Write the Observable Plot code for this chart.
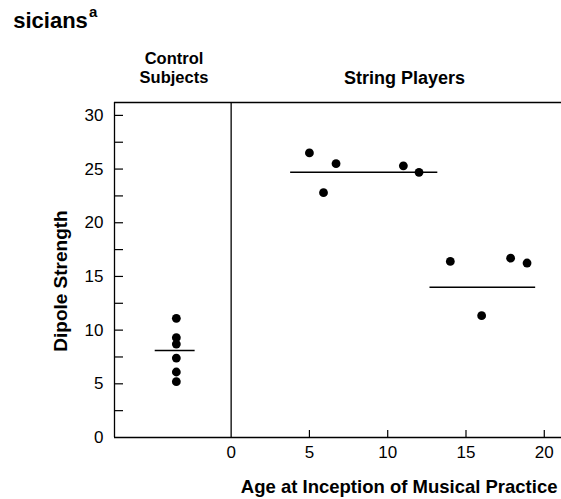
<!DOCTYPE html>
<html>
<head>
<meta charset="utf-8">
<script src="https://cdn.jsdelivr.net/npm/d3@7"></script>
<script src="https://cdn.jsdelivr.net/npm/@observablehq/plot@0.6"></script>
<style>
  html, body { margin: 0; padding: 0; background: #fff; }
  #chart svg { display: block; }
</style>
</head>
<body>
<div id="chart"></div>
<script>
// ---- data ----
const controlPosition = -3.5;
const controlValues = [11.1, 9.3, 8.7, 7.4, 6.1, 5.2];
const stringAges = [5.0, 5.9, 6.7, 11.0, 12.0, 14.0, 16.0, 17.85, 18.9];
const stringValues = [26.5, 22.8, 25.5, 25.3, 24.7, 16.4, 11.35, 16.7, 16.25];
const meanStart = [-4.85, 3.8, 12.7];
const meanEnd = [-2.3, 13.2, 19.45];
const meanValue = [8.1, 24.7, 14.0];
const xTickLabels = [0, 5, 10, 15, 20];
const yTickLabels = [0, 5, 10, 15, 20, 25, 30];
const yMinorTicks = [2.5, 5, 7.5, 10, 12.5, 15, 17.5, 20, 22.5, 25, 27.5, 30];
const xInnerTicks = [5, 10, 15, 20];
const xDomain = [-7.45, 21.1];
const yDomain = [0, 31.2];

const points = [
  ...controlValues.map(v => ({x: controlPosition, y: v})),
  ...stringAges.map((a, i) => ({x: a, y: stringValues[i]}))
];
const means = meanValue.map((v, i) => ({x1: meanStart[i], x2: meanEnd[i], y: v}));

const font = "'Liberation Sans', Arial, Helvetica, sans-serif";
const txt = {fill: "#000", lineAnchor: "middle", fontWeight: "bold"};

const chart = Plot.plot({
  width: 561,
  height: 499,
  marginTop: 102,
  marginBottom: 62,
  marginLeft: 114,
  marginRight: 0,
  style: {fontFamily: font, color: "#000", background: "#fff", overflow: "visible"},
  x: {domain: xDomain},
  y: {domain: yDomain},
  marks: [
    // frame lines
    Plot.ruleY([yDomain[0]], {stroke: "#000", strokeWidth: 1.3}),
    Plot.ruleY([yDomain[1]], {stroke: "#000", strokeWidth: 1.3}),
    Plot.ruleX([xDomain[0]], {stroke: "#000", strokeWidth: 1.3}),
    Plot.ruleX([0], {stroke: "#000", strokeWidth: 1.3}),
    // inward ticks
    Plot.tickY(yMinorTicks, {y: d => d, stroke: "#000", strokeWidth: 1.2, insetRight: 438}),
    Plot.tickX(xInnerTicks, {x: d => d, stroke: "#000", strokeWidth: 1.2, insetTop: 328}),
    // axes labels
    Plot.axisY({ticks: yTickLabels, tickSize: 0, tickPadding: 11, fontSize: 17, label: null, tickFormat: d => String(d)}),
    Plot.axisX({ticks: xTickLabels, tickSize: 0, tickPadding: 8, fontSize: 17, label: null, tickFormat: d => String(d)}),
    // mean lines
    Plot.ruleY(means, {x1: "x1", x2: "x2", y: "y", stroke: "#000", strokeWidth: 1.6}),
    // dots
    Plot.dot(points, {x: "x", y: "y", r: 4.4, fill: "#000", stroke: "none"}),
    // axis titles
    Plot.text(["Dipole Strength"], {...txt, frameAnchor: "left", textAnchor: "middle", dx: -54, dy: 11, rotate: -90, fontSize: 19}),
    Plot.text(["Age at Inception of Musical Practice"], {...txt, frameAnchor: "bottom-right", textAnchor: "end", dx: -4, dy: 50, fontSize: 18.5}),
    // group headers
    Plot.text(["Control"], {...txt, frameAnchor: "top", textAnchor: "middle", dx: -164, dy: -44, fontSize: 16.5}),
    Plot.text(["Subjects"], {...txt, frameAnchor: "top", textAnchor: "middle", dx: -164, dy: -25, fontSize: 16.5}),
    Plot.text(["String Players"], {...txt, frameAnchor: "top", textAnchor: "middle", dx: 66.5, dy: -24.5, fontSize: 18}),
    // title fragment
    Plot.text(["sicians"], {...txt, frameAnchor: "top-left", textAnchor: "start", dx: -101.3, dy: -82, fontSize: 22}),
    Plot.text(["a"], {...txt, frameAnchor: "top-left", textAnchor: "start", dx: -25.5, dy: -90, fontSize: 15})
  ]
});
document.getElementById("chart").appendChild(chart);
</script>
</body>
</html>
